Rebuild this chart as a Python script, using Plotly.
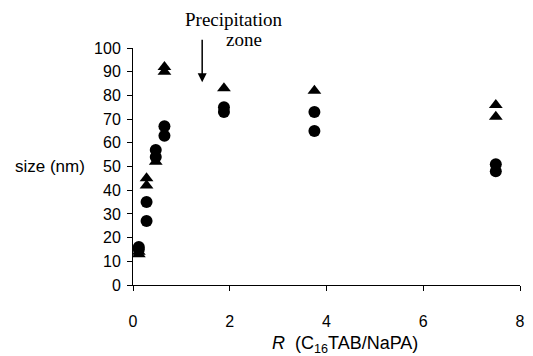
import plotly.graph_objects as go

# Data
tri_x = [0.12, 0.12, 0.28, 0.28, 0.47, 0.65, 0.65, 1.88, 3.75, 7.5, 7.5]
tri_y = [13, 14, 42, 45, 52, 90, 92, 83, 82, 76, 71]
circ_x = [0.12, 0.12, 0.28, 0.28, 0.47, 0.47, 0.65, 0.65, 1.88, 1.88, 3.75, 3.75, 7.5, 7.5]
circ_y = [16, 15, 27, 35, 54, 57, 63, 67, 73, 75, 65, 73, 48, 51]

x_ticks = [0, 2, 4, 6, 8]
y_ticks = list(range(0, 101, 10))

fig = go.Figure()
fig.add_trace(go.Scatter(x=circ_x, y=circ_y, mode="markers",
                         marker=dict(symbol="circle", size=12, color="black"),
                         cliponaxis=False, showlegend=False))
fig.add_trace(go.Scatter(x=tri_x, y=tri_y, mode="markers",
                         marker=dict(symbol="triangle-up", size=12, color="black"),
                         cliponaxis=False, showlegend=False))

sans = "Liberation Sans, Arial, sans-serif"
serif_font = dict(family="Liberation Serif, Times New Roman, serif", size=19, color="black")
tick_font = dict(family=sans, size=16, color="black")

fig.update_layout(
    width=525, height=348,
    margin=dict(l=125, r=8, t=40, b=71),
    paper_bgcolor="white", plot_bgcolor="white",
    xaxis=dict(range=[0, 8], tickvals=x_ticks, showgrid=False, zeroline=False,
               showline=True, linecolor="black", linewidth=1,
               ticks="outside", ticklen=5, tickcolor="black",
               ticklabelstandoff=17, tickfont=tick_font),
    yaxis=dict(range=[0, 100], tickvals=y_ticks, showgrid=False, zeroline=False,
               showline=True, linecolor="black", linewidth=1,
               ticks="outside", ticklen=5, tickcolor="black",
               ticklabelstandoff=3, tickfont=tick_font),
    annotations=[
        dict(text="size (nm)", xref="paper", yref="paper", x=-0.12, y=0.5,
             xanchor="right", yanchor="middle", showarrow=False,
             font=dict(family=sans, size=17, color="black")),
        dict(text="<i>R</i>  (C<sub>16</sub>TAB/NaPA)", xref="paper", yref="paper",
             x=0.548, y=-0.25, xanchor="center", yanchor="middle", showarrow=False,
             font=dict(family=sans, size=18, color="black")),
        dict(text="Precipitation", xref="x", yref="paper", x=2.08, y=1.12,
             xanchor="center", yanchor="middle", showarrow=False, font=serif_font),
        dict(text="zone", xref="x", yref="paper", x=2.3, y=1.035,
             xanchor="center", yanchor="middle", showarrow=False, font=serif_font),
        dict(text="", x=1.43, y=85.5, xref="x", yref="y", ax=0, ay=-44,
             showarrow=True, arrowhead=2, arrowsize=1.2, arrowwidth=1.5, arrowcolor="black"),
    ],
)

fig.write_html("out.html")
